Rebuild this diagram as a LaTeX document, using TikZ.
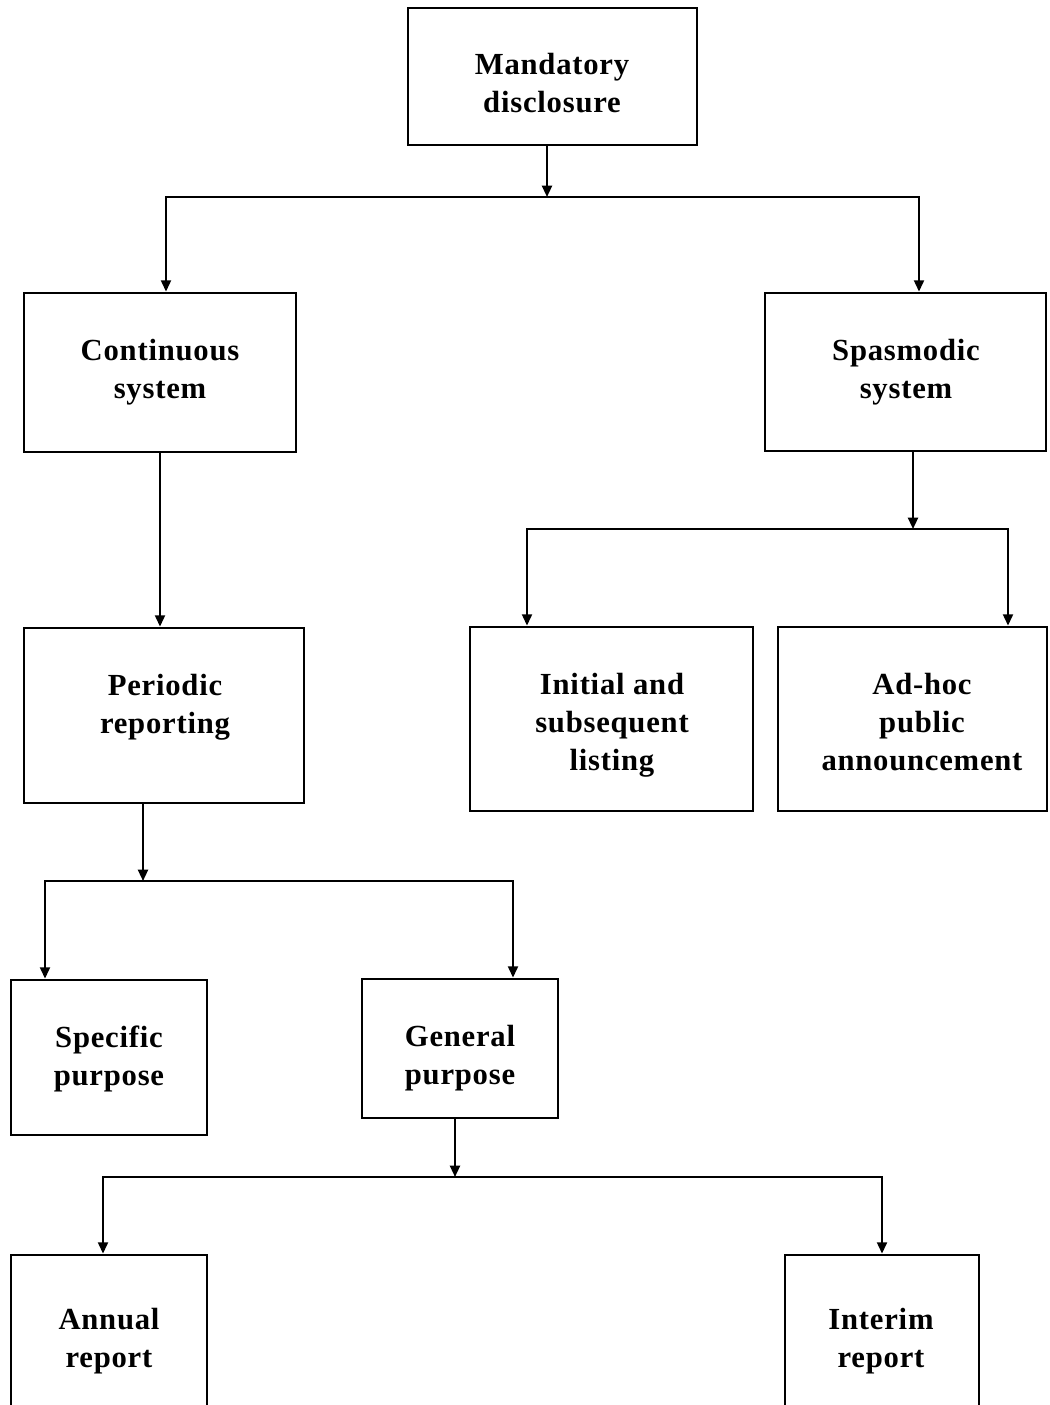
\documentclass[tikz,border=0pt]{standalone}
\usepackage{fontspec}
\setmainfont{Liberation Serif}[LetterSpace=2.5]
\usetikzlibrary{arrows.meta,calc}

\tikzset{
  box/.style={draw, line width=2.1pt, inner sep=0pt, rectangle},
  lbl/.style={font=\bfseries\fontsize{23}{28.5}\selectfont, align=center, inner sep=0pt},
  tip/.tip={Triangle[length=8.5pt,width=7.5pt]},
  link/.style={line width=1.6pt, -tip},
  fork/.style={line width=1.6pt, tip-tip, line join=miter}
}

\begin{document}
\begin{tikzpicture}[x=0.75pt, y=-0.75pt]
  \clip (0,0) rectangle (1049,1405);
  \fill[white] (0,0) rectangle (1049,1405);

  % boxes
  \node[box, minimum width=216.75pt, minimum height=102.75pt] (md) at (552.5,76.5) {};
  \node[box, minimum width=204pt,    minimum height=119.25pt] (cs) at (160,372.5) {};
  \node[box, minimum width=210.75pt, minimum height=118.5pt]  (ss) at (905.5,372) {};
  \node[box, minimum width=210pt,    minimum height=131.25pt] (pr) at (164,715.5) {};
  \node[box, minimum width=212.25pt, minimum height=138pt]    (il) at (611.5,719) {};
  \node[box, minimum width=201.75pt, minimum height=138pt]    (ah) at (912.5,719) {};
  \node[box, minimum width=147pt,    minimum height=116.25pt] (sp) at (109,1057.5) {};
  \node[box, minimum width=147pt,    minimum height=104.25pt] (gp) at (460,1048.5) {};
  \node[box, minimum width=147pt,    minimum height=135pt]    (ar) at (109,1345) {};
  \node[box, minimum width=145.5pt,  minimum height=135pt]    (ir) at (882,1345) {};

  % labels
  \node[lbl] (mdt) at (552,83)   {Mandatory\\disclosure};
  \node[lbl] (cst) at (160,372)  {Continuous\\system};
  \node[lbl] (sst) at (906,372)  {Spasmodic\\system};
  \node[lbl] (prt) at (165,707)  {Periodic\\reporting};
  \node[lbl] (ilt) at (612,725)  {Initial and\\subsequent\\listing};
  \node[lbl] (aht) at (922,722)  {Ad-hoc\\public\\announcement};
  \node[lbl] (spt) at (109,1059) {Specific\\purpose};
  \node[lbl] (gpt) at (460,1058.5) {General\\purpose};
  \node[lbl] (art) at (109,1341) {Annual\\report};
  \node[lbl] (irt) at (881,1341) {Interim\\report};

  % bus junctions
  \coordinate (j1)  at (547,197);
  \coordinate (j1l) at (166,197);
  \coordinate (j1r) at (919,197);
  \coordinate (j2)  at (913,529);
  \coordinate (j2l) at (527,529);
  \coordinate (j2r) at (1008,529);
  \coordinate (j3)  at (143,881);
  \coordinate (j3l) at (45,881);
  \coordinate (j3r) at (513,881);
  \coordinate (j4)  at (455,1177);
  \coordinate (j4l) at (103,1177);
  \coordinate (j4r) at (882,1177);

  % mandatory disclosure -> two systems
  \draw[link] (md.south -| j1) -- (j1);
  \draw[fork] (cs.north -| j1l) -- (j1l) -- (j1r) -- (ss.north -| j1r);

  % continuous system -> periodic reporting
  \draw[link] (cs.south) -- (pr.north -| cs.south);

  % spasmodic system -> listing / announcement
  \draw[link] (ss.south -| j2) -- (j2);
  \draw[fork] (il.north -| j2l) -- (j2l) -- (j2r) -- (ah.north -| j2r);

  % periodic reporting -> purposes
  \draw[link] (pr.south -| j3) -- (j3);
  \draw[fork] (sp.north -| j3l) -- (j3l) -- (j3r) -- (gp.north -| j3r);

  % general purpose -> reports
  \draw[link] (gp.south -| j4) -- (j4);
  \draw[fork] (ar.north -| j4l) -- (j4l) -- (j4r) -- (ir.north -| j4r);
\end{tikzpicture}
\end{document}
